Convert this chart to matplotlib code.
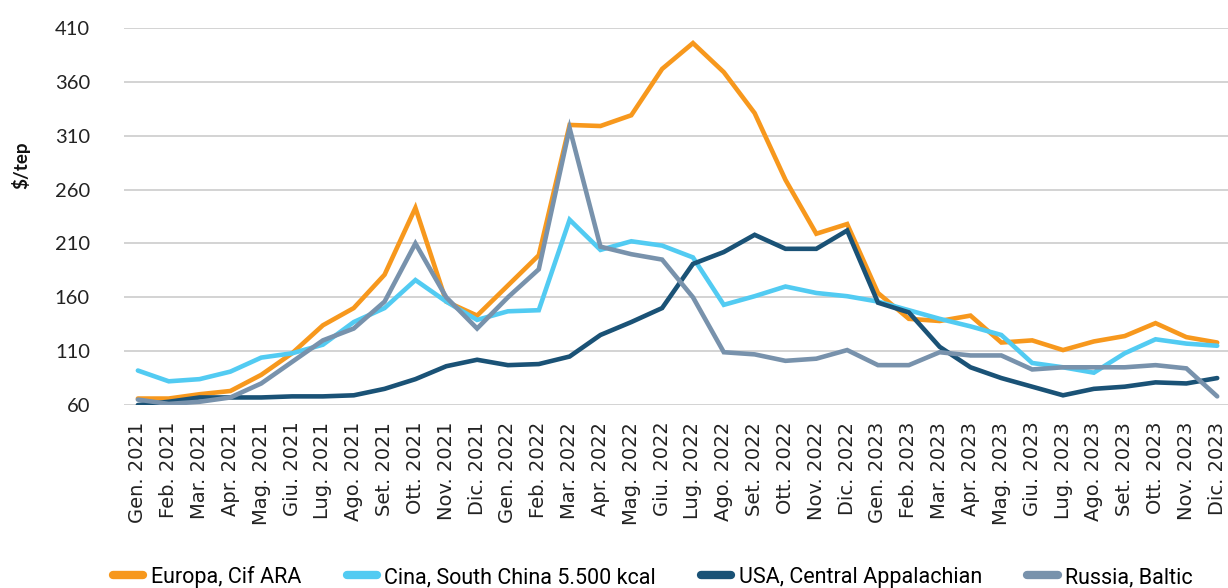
import matplotlib
matplotlib.use("Agg")
import matplotlib.pyplot as plt
from matplotlib.lines import Line2D

months = ["Gen.", "Feb.", "Mar.", "Apr.", "Mag.", "Giu.", "Lug.", "Ago.", "Set.", "Ott.", "Nov.", "Dic."]
years = ["2021", "2022", "2023"]
labels = [f"{m} {y}" for y in years for m in months]

europa = [66, 66, 70, 73, 88, 108, 134, 150, 181, 243, 156, 143,
          171, 199, 320, 319, 329, 372, 396, 369, 331, 269, 219, 228,
          164, 140, 138, 143, 118, 120, 111, 119, 124, 136, 123, 118]
cina = [92, 82, 84, 91, 104, 108, 116, 137, 150, 176, 156, 139,
        147, 148, 232, 204, 212, 208, 197, 153, 161, 170, 164, 161,
        156, 148, 140, 133, 125, 99, 95, 90, 108, 121, 117, 115]
usa = [60, 63, 67, 67, 67, 68, 68, 69, 75, 84, 96, 102,
       97, 98, 105, 125, 137, 150, 191, 202, 218, 205, 205, 222,
       155, 146, 114, 95, 85, 77, 69, 75, 77, 81, 80, 85]
russia = [65, 61, 63, 67, 80, 100, 120, 131, 156, 210, 160, 131,
          160, 186, 317, 207, 200, 195, 160, 109, 107, 101, 103, 111,
          97, 97, 109, 106, 106, 93, 95, 95, 95, 97, 94, 68]

series = [
    ("Europa, Cif ARA", europa, "#F7981D"),
    ("Cina, South China 5.500 kcal", cina, "#52CBF2"),
    ("USA, Central Appalachian", usa, "#1A5276"),
    ("Russia, Baltic", russia, "#7892AC"),
]
yticks = [60, 110, 160, 210, 260, 310, 360, 410]

fig = plt.figure(figsize=(12.28, 5.88), dpi=100)
ax = fig.add_axes([124/1228, 1 - 405/588, 1 - 124/1228, (405 - 28)/588])

x = list(range(len(labels)))
for name, vals, col in series:
    ax.plot(x, vals, color=col, lw=3.3, solid_joinstyle="miter", solid_capstyle="round", label=name, zorder=3)

ax.set_xlim(-0.45, 35.35)
ax.set_ylim(60, 410)
ax.set_yticks(yticks)
ax.set_yticklabels([str(v) for v in yticks], fontfamily="Lato", fontsize=14.5, color="#222222")
ax.set_xticks(x)
ax.set_xticklabels(labels, rotation=90, fontfamily="DejaVu Sans", fontsize=14, color="#222222", va="top", ha="center")
ax.tick_params(axis="both", length=0)
ax.tick_params(axis="y", pad=24.5)
ax.tick_params(axis="x", pad=12)
ax.grid(axis="y", color="#D0D0D0", lw=1.3, zorder=0)
for s in ax.spines.values():
    s.set_visible(False)
ax.set_axisbelow(True)

fig.text(21/1228, 1 - 165/588, "$/tep", rotation=90, fontfamily="Lato", fontweight="bold",
         fontsize=13.5, ha="center", va="center", color="#111111")

handles = [Line2D([0], [0], color=c, lw=6, solid_capstyle="round") for _, _, c in series]
fig.legend(handles, [n for n, _, _ in series], loc="center", bbox_to_anchor=(653/1228, 1 - 577/588),
           ncol=4, frameon=False, prop={"family": "Roboto", "size": 15.5},
           handlelength=1.4, handletextpad=0.35, columnspacing=2.1)

fig.savefig("out.png", dpi=100)
